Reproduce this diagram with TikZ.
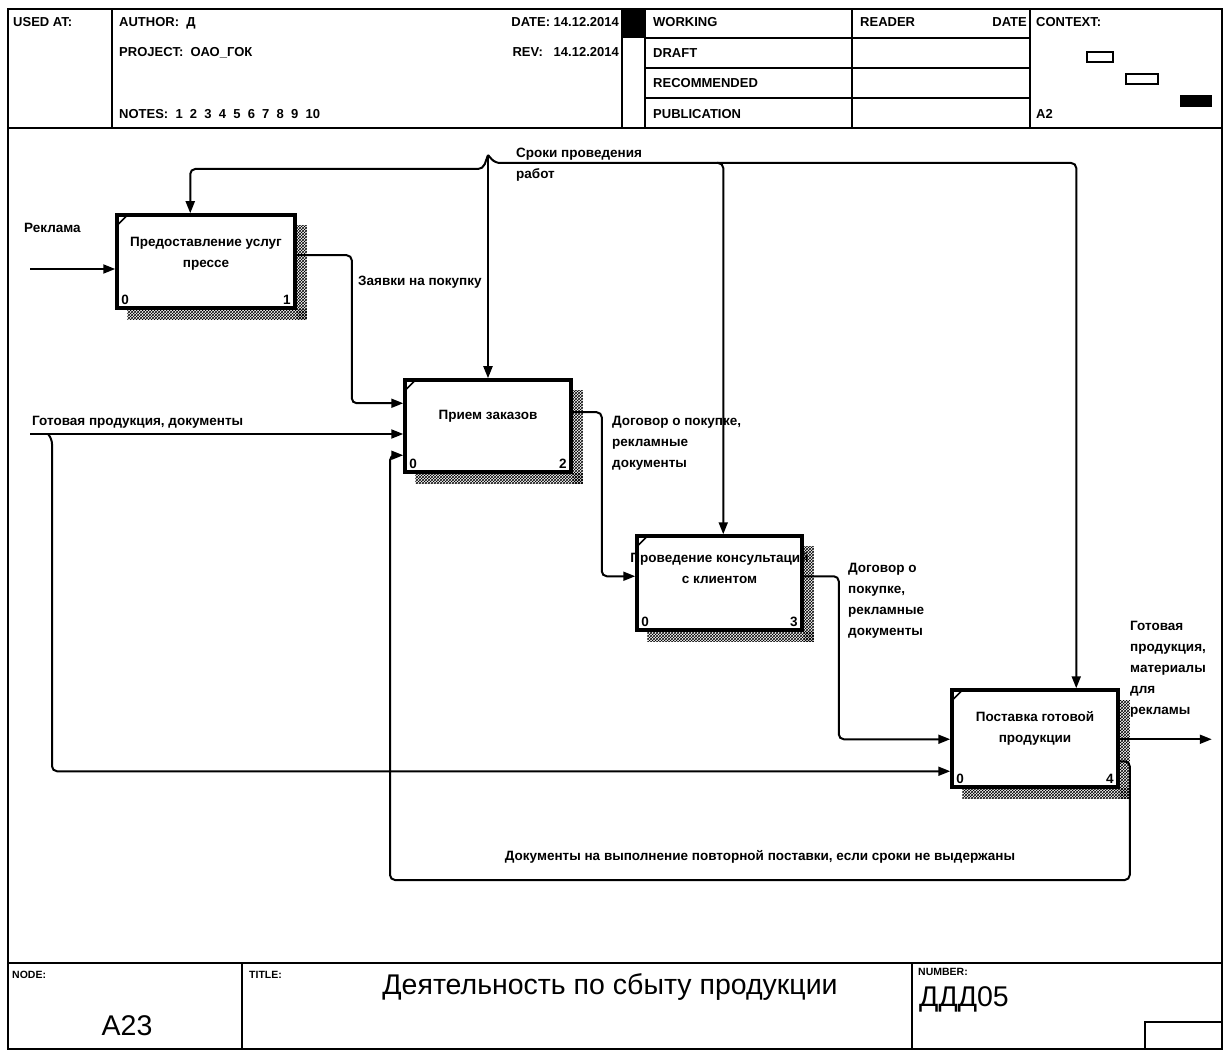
\documentclass[tikz,border=0pt]{standalone}
\usepackage{fontspec}
\setmainfont{Liberation Sans}
\usetikzlibrary{arrows.meta,patterns,calc}
\begin{document}
\begin{tikzpicture}[x=1pt,y=-1pt,
  frameline/.style={line width=2.5pt},
  rule/.style={line width=2pt},
  func/.style={draw,fill=white,line width=3.5pt,rectangle,inner sep=0pt},
  flow/.style={line width=2pt,rounded corners=5pt,-{Triangle[length=12pt,width=9pt]}},
  lbl/.style={font=\fontsize{13.5}{21}\selectfont\bfseries,align=left,inner sep=0pt},
  boxtxt/.style={font=\fontsize{13.5}{21}\selectfont\bfseries,align=center,inner sep=0pt},
  hdr/.style={font=\fontsize{13}{14}\selectfont\bfseries,inner sep=0pt,anchor=base west},
  small/.style={font=\fontsize{10.5}{12}\selectfont\bfseries,inner sep=0pt,anchor=base west},
  big/.style={font=\fontsize{28.5}{30}\selectfont,inner sep=0pt},
  shade/.style={pattern=crosshatch},
]
\useasboundingbox (0,0) rectangle (1224,1056);

% ---------- frame and header ----------
\draw[frameline] (8,9) rectangle (1222,1049);
\draw[rule] (8,128) -- (1222,128);
\draw[rule] (112,9) -- (112,128);
\draw[rule] (622,9) -- (622,128);
\draw[rule] (645,9) -- (645,128);
\draw[rule] (852,9) -- (852,128);
\draw[rule] (1030,9) -- (1030,128);
\fill (622,9) rectangle (645,38);
\draw[rule] (645,38) -- (1030,38);
\draw[rule] (645,68) -- (1030,68);
\draw[rule] (645,98) -- (1030,98);

\node[hdr] (usedat) at (13,27) {USED AT:};
\node[hdr] (author) at (119,27) {AUTHOR:\ \ Д};
\node[hdr] (project) at (119,57) {PROJECT:\ \ ОАО\_ГОК};
\node[hdr] (notes) at (119,119) {NOTES:\ \ 1\ \ 2\ \ 3\ \ 4\ \ 5\ \ 6\ \ 7\ \ 8\ \ 9\ \ 10};
\node[hdr,anchor=base east] (date) at (619,27) {DATE: 14.12.2014};
\node[hdr,anchor=base east] (rev) at (619,57) {REV:\ \ \ 14.12.2014};
\node[hdr] (working) at (653,27) {WORKING};
\node[hdr] (draft) at (653,58) {DRAFT};
\node[hdr] (recom) at (653,88) {RECOMMENDED};
\node[hdr] (publ) at (653,119) {PUBLICATION};
\node[hdr] (reader) at (860,27) {READER};
\node[hdr,anchor=base east] (rdate) at (1027,27) {DATE};
\node[hdr] (context) at (1036,27) {CONTEXT:};
\node[hdr] (ctxnode) at (1036,119) {A2};
\draw[line width=1.5pt] (1087,52) rectangle (1113,62);
\draw[line width=1.5pt] (1126,74) rectangle (1158,84);
\fill (1180,95) rectangle (1212,107);

% ---------- footer ----------
\draw[rule] (8,963) -- (1222,963);
\draw[rule] (242,963) -- (242,1049);
\draw[rule] (912,963) -- (912,1049);
\draw[rule] (1145,1049) -- (1145,1022) -- (1222,1022);
\node[small] (nodelbl) at (12,978) {NODE:};
\node[small] (titlelbl) at (249,978) {TITLE:};
\node[small] (numlbl) at (918,975) {NUMBER:};
\node[big] (title) at (610,987) {Деятельность по сбыту продукции};
\node[big] (nodeid) at (127,1026) {A23};
\node[big,anchor=base west] (number) at (919,1006) {ДДД05};

% ---------- activity boxes ----------
\node[func,minimum width=178pt,minimum height=93pt] (b1) at (206,261.5) {};
\node[func,minimum width=166pt,minimum height=92pt] (b2) at (488,426) {};
\node[func,minimum width=165pt,minimum height=94pt] (b3) at (719.5,583) {};
\node[func,minimum width=166pt,minimum height=97pt] (b4) at (1035,738.5) {};

\foreach \b in {b1,b2,b3,b4} {
  \fill[shade] ($(\b.north east)+(0,12)$) rectangle ($(\b.south east)+(10,10)$);
  \fill[shade] ($(\b.south west)+(12,0)$) rectangle ($(\b.south east)+(10,10)$);
  \draw[line width=1.5pt] ($(\b.north west)+(3,11)$) -- ($(\b.north west)+(11,3)$);
}

\node[boxtxt,anchor=north] (t1) at ($(b1.north)+(0,24)$) {Предоставление услуг\\прессе};
\node[boxtxt,anchor=north] (t2) at ($(b2.north)+(0,32)$) {Прием заказов};
\node[boxtxt,anchor=north] (t3) at ($(b3.north)+(0,18)$) {Проведение консультаций\\с клиентом};
\node[boxtxt,anchor=north] (t4) at ($(b4.north)+(0,23)$) {Поставка готовой\\продукции};

\node[lbl,anchor=south west] (b1l) at ($(b1.south west)+(6,-5)$) {0};
\node[lbl,anchor=south east] (b1r) at ($(b1.south east)+(-6,-5)$) {1};
\node[lbl,anchor=south west] (b2l) at ($(b2.south west)+(6,-5)$) {0};
\node[lbl,anchor=south east] (b2r) at ($(b2.south east)+(-6,-5)$) {2};
\node[lbl,anchor=south west] (b3l) at ($(b3.south west)+(6,-5)$) {0};
\node[lbl,anchor=south east] (b3r) at ($(b3.south east)+(-6,-5)$) {3};
\node[lbl,anchor=south west] (b4l) at ($(b4.south west)+(6,-5)$) {0};
\node[lbl,anchor=south east] (b4r) at ($(b4.south east)+(-6,-5)$) {4};

% ---------- arrows ----------
% advertising input
\coordinate (rin) at (30,269);
\draw[flow] (rin) -- (rin -| b1.west);
\node[lbl,anchor=north west] (lrek) at (24,223) {Реклама};

% deadlines control, branching to every activity
\coordinate (cj) at (488,155);
\coordinate (ctop) at (495,163);
\draw[flow] (cj) -- (ctop) -| ($(b4.north west)+(126,0)$);
\draw[flow] (cj) -- (b2.north);
\draw[flow] (cj) -- ++(-5,14) -| ($(b1.north west)+(75,0)$);
\draw[flow] ($(ctop)+(222,0)$) -| ($(b3.north west)+(88,0)$);
\node[lbl,anchor=north west] (lsrok) at (516,148) {Сроки проведения\\работ};

% purchase requests
\coordinate (z1) at ($(b1.north east)+(0,42)$);
\draw[flow] (z1) -- ++(55,0) |- ($(b2.north west)+(0,25)$);
\node[lbl,anchor=north west] (lzay) at (358,276) {Заявки на покупку};

% finished goods and documents
\coordinate (gin) at (30,434);
\draw[flow] (gin) -- (gin -| b2.west);
\draw[flow] ($(gin)+(18,0)$) -- ++(4,5) |- ($(b4.north west)+(0,83)$);
\node[lbl,anchor=north west] (lgot) at (32,416) {Готовая продукция, документы};

% contract 2 -> 3
\draw[flow] ($(b2.north east)+(0,34)$) -- ++(29,0) |- ($(b3.north west)+(0,42)$);
\node[lbl,anchor=north west] (ldog1) at (612,416) {Договор о покупке,\\рекламные\\документы};

% contract 3 -> 4
\draw[flow] ($(b3.north east)+(0,42)$) -- ++(35,0) |- ($(b4.north west)+(0,51)$);
\node[lbl,anchor=north west] (ldog2) at (848,563) {Договор о\\покупке,\\рекламные\\документы};

% final output
\draw[flow] ($(b4.north east)+(0,51)$) -- ++(92,0) coordinate (gout);
\node[lbl,anchor=north west] (lout) at (1130,621) {Готовая\\продукция,\\материалы\\для\\рекламы};

% repeat delivery feedback
\draw[flow] ($(b4.north east)+(0,73)$) -- ++(10,0) |- (390,880) |- ($(b2.north west)+(0,77)$);
\node[lbl] (lfb) at (760,857) {Документы на выполнение повторной поставки, если сроки не выдержаны};

\end{tikzpicture}
\end{document}
